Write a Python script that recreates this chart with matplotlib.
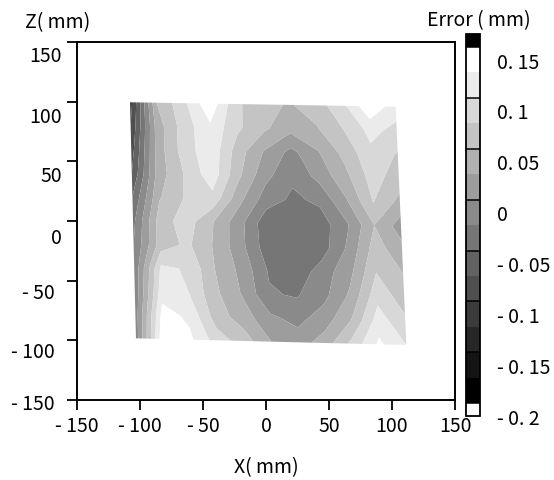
import numpy as np
import matplotlib
matplotlib.use('Agg')
import matplotlib.pyplot as plt
import matplotlib.transforms as mtransforms
from matplotlib.colors import ListedColormap, BoundaryNorm
from matplotlib.cm import ScalarMappable

plt.rcParams['font.family'] = ['Noto Sans CJK JP', 'DejaVu Sans']

# corners of the measured area in mm: top-left, top-right, bottom-right, bottom-left
corner_x = [-107.9, 102.9, 111.4, -103.2]
corner_y = [99.5, 95.8, -103.9, -98.3]

# error read off the map as band index (0 = 0.15 band, each step is -0.025 mm)
# rows go from the top edge to the bottom edge, columns from left to right
band_idx = [
    [10.0, 3.5, 1.8, -0.3, 2.3, 3.2, 3.6, 3.0, 1.8, -0.3, 1.0],
    [9.5, 4.0, 2.0, 0.7, 2.3, 3.3, 4.2, 3.6, 2.5, 1.2, 1.8],
    [9.0, 4.0, 2.0, 0.8, 3.0, 4.6, 5.8, 4.6, 3.2, 1.75, 2.6],
    [8.5, 4.0, 2.4, 0.9, 3.3, 5.2, 6.3, 5.2, 3.8, 2.1, 3.0],
    [7.5, 3.6, 2.4, 1.8, 4.2, 6.0, 6.7, 6.3, 4.6, 2.45, 3.8],
    [6.8, 3.0, 2.0, 3.5, 5.2, 7.2, 7.3, 7.0, 5.6, 3.5, 5.0],
    [6.5, 3.0, 2.3, 3.6, 5.2, 7.1, 7.3, 7.0, 5.3, 3.0, 4.2],
    [6.3, 1.3, 1.6, 3.5, 4.8, 6.6, 7.2, 6.0, 4.8, 2.5, 3.5],
    [6.2, 0.9, 1.5, 3.3, 4.6, 6.4, 6.6, 5.8, 4.3, 1.8, 3.0],
    [6.0, 0.1, 0.7, 3.0, 4.0, 5.3, 5.8, 5.0, 3.5, 1.0, 2.3],
    [6.0, -0.3, 0.3, 2.0, 3.0, 4.5, 5.0, 4.0, 2.2, 0.3, 1.5],
]
err = 0.15 - 0.025 * np.array(band_idx)

# band colours from the 0.15 band (white) down to the -0.175 band (black)
band_grays = ['#ffffff', '#ebebeb', '#d8d8d8', '#c4c4c4', '#b1b1b1', '#9d9d9d', '#8a8a8a',
              '#767676', '#626262', '#4f4f4f', '#3b3b3b', '#272727', '#141414', '#000000']
levels = np.arange(-0.1875, 0.1626, 0.025)

axis_ticks = [-150, -100, -50, 0, 50, 100, 150]
axis_labels = ['- 150', '- 100', '- 50', '0', '50', '100', '150']
cbar_ticks = [-0.2, -0.15, -0.1, -0.05, 0, 0.05, 0.1, 0.15]
cbar_labels = ['- 0. 2', '- 0. 15', '- 0. 1', '- 0. 05', '0', '0. 05', '0. 1', '0. 15']

# the y labels in the original sit a little below their ticks (pixels)
ylab_drop = [1, 9, 9, 14, 12, 12, 11]
ylab_shift = [-7, -7, -7, 0, 0, 0, 0]

# grid of the measured points
n_rows, n_cols = err.shape
u = np.linspace(0, 1, n_cols)[None, :]
v = np.linspace(1, 0, n_rows)[:, None]
X = (1 - u) * (v * corner_x[0] + (1 - v) * corner_x[3]) + u * (v * corner_x[1] + (1 - v) * corner_x[2])
Y = (1 - u) * (v * corner_y[0] + (1 - v) * corner_y[3]) + u * (v * corner_y[1] + (1 - v) * corner_y[2])

fig = plt.figure(figsize=(5.54, 4.81), dpi=100)
ax = fig.add_axes([0.139, 0.1663, 0.6823, 0.7443])
ax.contourf(X, Y, err, levels=levels, colors=band_grays[::-1], antialiased=True)
ax.set_xlim(-150, 150)
ax.set_ylim(-150, 150)
ax.set_xticks(axis_ticks)
ax.set_xticklabels(axis_labels)
ax.set_yticks(axis_ticks)
ax.set_yticklabels(axis_labels)
ax.tick_params(direction='out', length=7, width=1.3, labelsize=14, pad=4, colors='black')
for sp in ax.spines.values():
    sp.set_linewidth(1.4)
for lab, dy, dx in zip(ax.get_yticklabels(), ylab_drop, ylab_shift):
    off = mtransforms.ScaledTranslation(dx / 100, -dy / 100, fig.dpi_scale_trans)
    lab.set_transform(lab.get_transform() + off)

fig.text(0.045, 0.952, 'Z( mm)', fontsize=14, ha='left', va='center')
fig.text(0.48, 0.027, 'X( mm)', fontsize=14, ha='center', va='center')
fig.text(0.958, 0.958, 'Error ( mm)', fontsize=14, ha='right', va='center')

# colorbar with half-size end boxes (black above, white below)
bounds = np.concatenate([[-0.2], levels, [0.175]])
cb_colors = ['#ffffff'] + band_grays[::-1] + ['#000000']
sm = ScalarMappable(norm=BoundaryNorm(bounds, len(cb_colors)), cmap=ListedColormap(cb_colors))
cax = fig.add_axes([0.841, 0.133, 0.0253, 0.794])
cb = fig.colorbar(sm, cax=cax, spacing='proportional', ticks=cbar_ticks)
cb.ax.minorticks_off()
cb.ax.set_yticklabels(cbar_labels)
cb.ax.tick_params(which='both', length=0, labelsize=14, pad=12)
cb.outline.set_linewidth(1.3)
for yl in [0.1625, 0.1125, 0.0625, 0.0125, -0.0375, -0.0875, -0.1375, -0.1875]:
    cb.ax.axhline(yl, color='black', lw=1.1)

fig.savefig('out.png', dpi=100)
